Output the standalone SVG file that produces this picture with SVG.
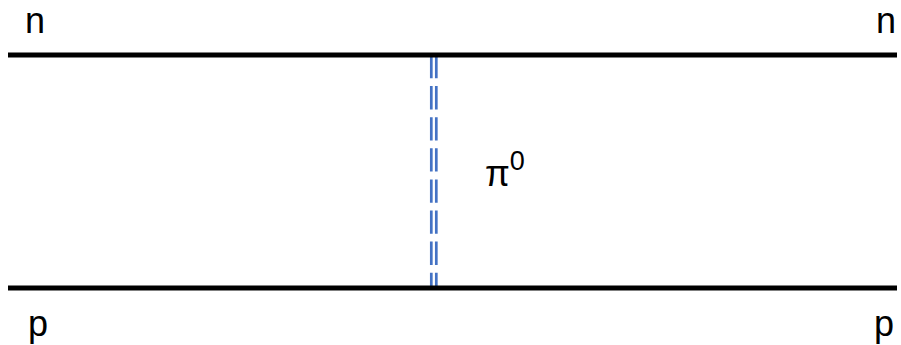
<svg xmlns="http://www.w3.org/2000/svg" width="901" height="345" viewBox="0 0 901 345">
<style>
.lbl{font-family:"Liberation Sans","Open Sans",sans-serif;font-size:36px;fill:#000}
.prop{stroke:#000;stroke-width:5}
.pion{stroke:#4472C4;stroke-width:2.7;stroke-dasharray:23.3 7.8}
</style>
<rect width="901" height="345" fill="#fff"/>
<g id="connectors">
<line class="pion" x1="431.3" y1="55" x2="431.3" y2="288"/>
<line class="pion" x1="436.3" y1="55" x2="436.3" y2="288"/>
</g>
<g id="neutron"><line class="prop" x1="8" y1="55" x2="897" y2="55"/></g>
<g id="proton"><line class="prop" x1="8" y1="288" x2="897" y2="288"/></g>
<g id="labels">
<text class="lbl" x="25" y="33">n</text>
<text class="lbl" x="876" y="33">n</text>
<text class="lbl" x="28" y="336">p</text>
<text class="lbl" x="874" y="336">p</text>
<text class="lbl" x="485" y="186">π<tspan dy="-16" font-size="27">0</tspan></text>
</g>
</svg>
